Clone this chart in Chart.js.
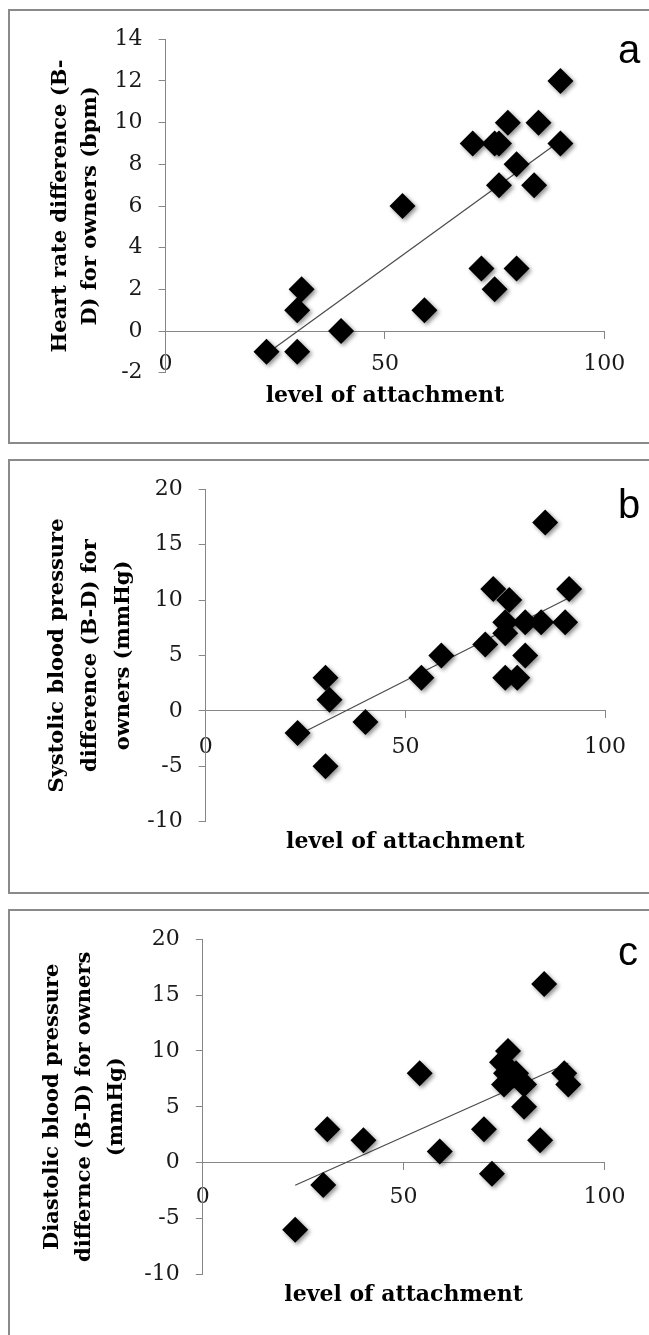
<!DOCTYPE html>
<html>
<head>
<meta charset="utf-8">
<script src="https://cdn.jsdelivr.net/npm/chart.js@4.4.1/dist/chart.umd.min.js"></script>
<style>
html, body { margin: 0; padding: 0; background: #fff; overflow: hidden; }
body { width: 649px; height: 1335px; position: relative; }
.panel { position: absolute; left: 8px; width: 700px; height: 431px; border: 2px solid #8a8a8a; }
.box { position: absolute; left: 0; width: 649px; height: 435px; }
.tag { position: absolute; left: 618px; font: 40px "Liberation Sans", Arial, sans-serif; line-height: 40px; color: #000; }
</style>
</head>
<body>
<div class="panel" style="top:9px"></div>
<div class="panel" style="top:459px"></div>
<div class="panel" style="top:909px"></div>

<div class="box" style="top:9px"><canvas id="chartA"></canvas></div>
<div class="box" style="top:459px"><canvas id="chartB"></canvas></div>
<div class="box" style="top:909px"><canvas id="chartC"></canvas></div>

<div class="tag" style="top:29px">a</div>
<div class="tag" style="top:484px">b</div>
<div class="tag" style="top:931px">c</div>

<script>
// values
const attachA = [23, 30, 31, 30, 40, 54, 59, 72, 75, 80, 70, 75, 76, 78, 85, 90, 80, 76, 84, 90];
const heartRate = [-1, -1, 2, 1, 0, 6, 1, 3, 2, 3, 9, 9, 9, 10, 10, 9, 8, 7, 7, 12];

const attachB = [23, 30, 30, 31, 40, 54, 59, 70, 72, 76, 75, 75, 80, 84, 90, 91, 85, 80, 75, 78];
const systolic = [-2, -5, 3, 1, -1, 3, 5, 6, 11, 10, 8, 7, 8, 8, 8, 11, 17, 5, 3, 3];

const attachC = [23, 30, 31, 40, 54, 59, 70, 72, 76, 74.5, 75.5, 78, 75, 80, 80, 84, 90, 91, 85];
const diastolic = [-6, -2, 3, 2, 8, 1, 3, -1, 10, 9, 8, 8, 7, 7, 5, 2, 8, 7, 16];

const xTicks = {min: 0, max: 100, step: 50};
const ticksA = {min: -2, max: 14, step: 2};
const ticksBC = {min: -10, max: 20, step: 5};

const titleA = ['Heart rate difference (B-', 'D) for owners (bpm)'];
const titleB = ['Systolic blood pressure', 'difference (B-D) for', 'owners (mmHg)'];
const titleC = ['Diastolic blood pressure', 'differnce (B-D) for owners', '(mmHg)'];
const xTitle = 'level of attachment';

const axisGrey = '#868686';
const tickFont = {family: '"DejaVu Serif", serif', size: 22};
const titleFont = {family: '"DejaVu Serif", serif', size: 21, weight: 'bold'};

// least squares line over the data range
function trend(xs, ys) {
  const n = xs.length;
  const mx = xs.reduce((s, v) => s + v, 0) / n;
  const my = ys.reduce((s, v) => s + v, 0) / n;
  let sxy = 0, sxx = 0;
  xs.forEach((x, i) => {
    sxy += (x - mx) * (ys[i] - my);
    sxx += (x - mx) * (x - mx);
  });
  const b = sxy / sxx, a = my - b * mx;
  const lo = Math.min(...xs), hi = Math.max(...xs);
  return [{x: lo, y: a + b * lo}, {x: hi, y: a + b * hi}];
}

const markerShadow = {
  id: 'markerShadow',
  beforeDatasetDraw(chart, args) {
    if (args.index !== 0) return;
    const ctx = chart.ctx;
    ctx.save();
    ctx.shadowColor = 'rgba(0,0,0,0.45)';
    ctx.shadowBlur = 4;
    ctx.shadowOffsetX = 2;
    ctx.shadowOffsetY = 2;
  },
  afterDatasetDraw(chart, args) {
    if (args.index !== 0) return;
    chart.ctx.restore();
  }
};

function makeChart(id, xs, ys, yTicks, yTitle, lay) {
  const H = 435;
  const padLeft = lay.titleStart - lay.titleLH / 2;
  return new Chart(document.getElementById(id), {
    type: 'scatter',
    data: {
      datasets: [{
        data: xs.map((x, i) => ({x: x, y: ys[i]})),
        pointStyle: 'rectRot',
        pointRadius: 13,
        backgroundColor: '#000',
        borderColor: '#000',
        borderWidth: 0,
        clip: false
      }, {
        type: 'line',
        data: trend(xs, ys),
        borderColor: '#4a4a4a',
        borderWidth: 1.2,
        pointRadius: 0,
        fill: false
      }]
    },
    options: {
      responsive: true,
      maintainAspectRatio: false,
      animation: false,
      layout: {
        padding: {
          left: padLeft,
          right: 649 - lay.right,
          top: lay.top,
          bottom: H - lay.bottom - lay.xTitleH
        }
      },
      plugins: {legend: {display: false}, tooltip: {enabled: false}},
      scales: {
        x: {
          type: 'linear',
          position: {y: 0},
          min: xTicks.min, max: xTicks.max,
          ticks: {stepSize: xTicks.step, font: tickFont, color: '#1a1a1a', padding: lay.xTickPad, maxRotation: 0},
          grid: {drawOnChartArea: false, tickLength: 7, color: axisGrey},
          border: {color: axisGrey, width: 1},
          afterFit(scale) { scale.paddingLeft = 0; scale.paddingRight = 0; }
        },
        x2: {
          type: 'linear',
          position: 'bottom',
          min: xTicks.min, max: xTicks.max,
          ticks: {display: false},
          grid: {display: false},
          border: {display: false},
          title: {display: true, text: xTitle, font: Object.assign({}, titleFont, {size: 22}), color: '#000', padding: 0},
          afterFit(scale) {
            scale.height = lay.xTitleH;
            scale.paddingLeft = 0; scale.paddingRight = 0;
          }
        },
        y: {
          type: 'linear',
          position: 'left',
          min: yTicks.min, max: yTicks.max,
          ticks: {stepSize: yTicks.step, font: tickFont, color: '#1a1a1a', padding: 16},
          grid: {drawOnChartArea: false, tickLength: 7, color: axisGrey},
          border: {color: axisGrey, width: 1},
          title: {
            display: true, text: yTitle, color: '#000',
            font: Object.assign({}, titleFont, {lineHeight: lay.titleLH + 'px'}),
            padding: 0
          },
          afterFit(scale) {
            scale.width = lay.left - padLeft;
            scale.paddingTop = 0; scale.paddingBottom = 0;
          }
        }
      }
    },
    plugins: [markerShadow]
  });
}

makeChart('chartA', attachA, heartRate, ticksA, titleA,
  {left: 165.6, right: 604.3, top: 30.3, bottom: 363.7, titleStart: 61, titleLH: 30, xTitleH: 36.6, xTickPad: 13.5});
makeChart('chartB', attachB, systolic, ticksBC, titleB,
  {left: 205.7, right: 605.1, top: 30.3, bottom: 362.7, titleStart: 58, titleLH: 33, xTitleH: 33.6, xTickPad: 16.5});
makeChart('chartC', attachC, diastolic, ticksBC, titleC,
  {left: 202.8, right: 604.4, top: 30.3, bottom: 365.3, titleStart: 53, titleLH: 32, xTitleH: 34.3, xTickPad: 14});
</script>
</body>
</html>
